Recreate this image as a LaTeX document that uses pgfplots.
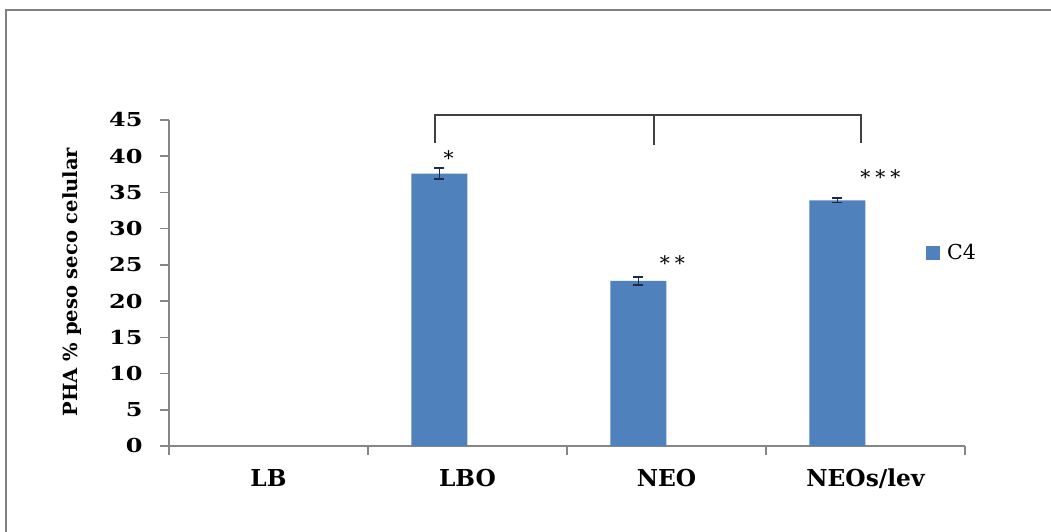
\documentclass[border=0pt]{standalone}
\usepackage{pgfplots}
\pgfplotsset{compat=1.18}
\usepackage{pgfplotstable}
\usepackage{graphicx}
\usepackage{fontspec}
\setmainfont{DejaVu Serif}

\definecolor{barblue}{HTML}{4F81BD}
\definecolor{axisgray}{HTML}{868686}
\definecolor{framegray}{HTML}{808080}
\definecolor{brackgray}{HTML}{404040}
\definecolor{errcol}{HTML}{1F2A44}

% PHA content (% of dry cell weight) for strain C4;
% bars sit to the left of each category centre
\pgfplotstableread{
x      y     err
0.859  37.6  0.8
1.859  22.8  0.55
2.859  33.9  0.3
}\phadata

\begin{document}
\begin{tikzpicture}[x=1bp,y=1bp]
\useasboundingbox (0,0) rectangle (1051,532);
\fill[white] (0,0) rectangle (1051,532);
\draw[framegray, line width=2bp] (6,0) -- (6,522) -- (1051,522);
\begin{axis}[
  at={(169bp,86bp)}, anchor=south west,
  scale only axis, width=796bp, height=326bp,
  xmin=-0.5, xmax=3.5, ymin=0, ymax=45,
  axis lines*=left,
  axis line style={axisgray, line width=1.5bp},
  xtick={-0.5,0.5,1.5,2.5,3.5},
  x tick label as interval,
  xticklabels={LB,LBO,NEO,NEOs/lev},
  ytick={0,5,...,45},
  tick align=outside,
  major tick length=9bp,
  tick style={axisgray, line width=1.5bp},
  /pgf/number format/assume math mode=true,
  yticklabel={\scalebox{1.25}[1]{\pgfmathprintnumber{\tick}}},
  yticklabel style={font=\fontsize{19.2bp}{23bp}\selectfont\bfseries, anchor=east, xshift=-14bp},
  xticklabel style={font=\fontsize{23.3bp}{28bp}\selectfont\bfseries, anchor=base, yshift=-32bp},
  ylabel={PHA \% peso seco celular},
  ylabel style={font=\fontsize{19.5bp}{23bp}\selectfont\bfseries, at={(rel axis cs:-0.122,0.503)}, anchor=center},
  legend style={draw=none, fill=none, at={(rel axis cs:0.9472,0.592)}, anchor=west,
    font=\fontsize{20.6bp}{24bp}\selectfont},
  legend image code/.code={\fill[barblue] (0bp,-7bp) rectangle (14bp,7bp);
    \path (19bp,0bp);},
  clip=false,
]
\addplot[ybar, bar width=56bp, fill=barblue, draw=none,
  error bars/.cd, y dir=both, y explicit,
  error bar style={line width=1.8bp, errcol},
  error mark options={rotate=90, mark size=5bp, line width=1.8bp, errcol}]
  table[x=x, y=y, y error=err] {\phadata};
\addlegendentry{C4}

% significance bracket
\draw[brackgray, line width=2bp]
  (axis cs:0.839,41.8) -- (axis cs:0.839,45.7) -- (axis cs:2.975,45.7) -- (axis cs:2.975,41.8);
\draw[brackgray, line width=2bp] (axis cs:1.935,45.7) -- (axis cs:1.935,41.5);

% significance marks
\node[font=\fontsize{20bp}{24bp}\selectfont] at (axis cs:0.905,39.8) {*};
\node[font=\fontsize{20bp}{24bp}\selectfont] at (axis cs:2.03,25.3) {*\kern5bp*};
\node[font=\fontsize{20bp}{24bp}\selectfont] at (axis cs:3.075,37.1) {*\kern5bp*\kern5bp*};
\end{axis}
\end{tikzpicture}
\end{document}
